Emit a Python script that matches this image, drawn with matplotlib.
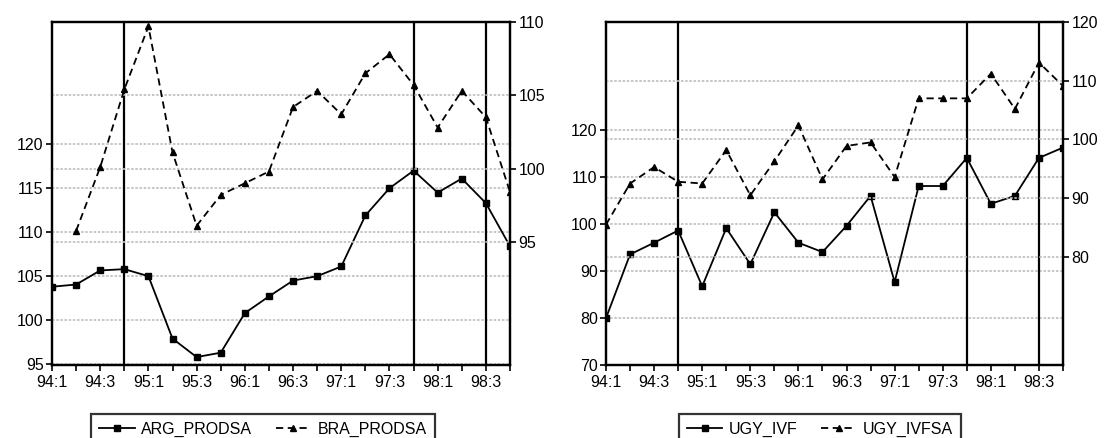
import matplotlib.pyplot as plt
import numpy as np

plt.rcParams['font.family'] = ['Liberation Sans', 'DejaVu Sans']

# quarters 94:1 .. 98:4
quarters = ['94:1', '94:2', '94:3', '94:4', '95:1', '95:2', '95:3', '95:4',
            '96:1', '96:2', '96:3', '96:4', '97:1', '97:2', '97:3', '97:4',
            '98:1', '98:2', '98:3', '98:4']

arg_prodsa = [103.8, 104.05, 105.65, 105.8, 105.0, 97.9, 95.8, 96.3,
              100.8, 102.7, 104.5, 105.0, 106.1, 111.9, 115.0, 117.0,
              114.5, 116.1, 113.3, 108.4]
bra_prodsa = [np.nan, 95.75, 100.1, 105.4, 109.7, 101.1, 96.1, 98.2,
              99.0, 99.8, 104.2, 105.3, 103.7, 106.5, 107.8, 105.7,
              102.8, 105.3, 103.5, 98.4]

ugy_ivf = [79.9, 93.5, 96.0, 98.6, 86.7, 99.1, 91.4, 102.5,
           96.0, 94.0, 99.6, 106.0, 87.6, 108.1, 108.1, 114.1,
           104.3, 106.0, 114.1, 116.3]
ugy_ivfsa = [85.5, 92.5, 95.3, 92.8, 92.5, 98.2, 90.5, 96.3,
             102.4, 93.2, 98.9, 99.5, 93.6, 107.0, 107.0, 107.0,
             111.2, 105.2, 113.1, 109.1]

# quarter positions of the vertical marker lines (94:4, 97:4, 98:3)
vlines_at = ['94:4', '97:4', '98:3']

left_ticks_l = [95, 100, 105, 110, 115, 120]
right_ticks_l = [95, 100, 105, 110]
left_ticks_r = [70, 80, 90, 100, 110, 120]
right_ticks_r = [80, 90, 100, 110, 120]

x = np.arange(len(quarters))
fs = 11.5
grid_kw = dict(color='#bdbdbd', linestyle=(0, (1.5, 1)), linewidth=1.2)


def panel(rect, s1, s2, name1, name2, lim1, lim2, t1, t2, leg_x):
    ax = fig.add_axes(rect)
    ax2 = ax.twinx()
    for t in t1:
        if lim1[0] < t < lim1[1]:
            ax.axhline(t, zorder=0, **grid_kw)
    for t in t2:
        if lim2[0] < t < lim2[1]:
            ax2.axhline(t, zorder=0, **grid_kw)
    for q in vlines_at:
        ax.axvline(quarters.index(q), color='black', lw=1.6, zorder=1)
    l1, = ax.plot(x, s1, color='black', lw=1.3, marker='s', ms=3.8,
                  zorder=3, label=name1)
    l2, = ax2.plot(x, s2, color='black', lw=1.3, ls=(0, (4, 2.5)),
                   marker='^', ms=4.2, zorder=3, label=name2)
    ax.set_xlim(0, len(quarters) - 1)
    ax.set_ylim(*lim1)
    ax2.set_ylim(*lim2)
    ax.set_yticks(t1)
    ax2.set_yticks(t2)
    ax.set_xticks(x)
    ax.set_xticklabels([q if i % 2 == 0 else '' for i, q in enumerate(quarters)])
    for a in (ax, ax2):
        for sp in a.spines.values():
            sp.set_linewidth(1.6)
        a.tick_params(labelsize=fs, width=1.2, length=4, pad=2)
    ax.tick_params(axis='x', length=4, pad=3)
    leg = fig.legend(handles=[l1, l2], loc='upper center',
                     bbox_to_anchor=(leg_x, 1 - 414 / 438), ncol=2,
                     fontsize=11.5, frameon=True, fancybox=False,
                     edgecolor='black', handlelength=2.2, columnspacing=1.5,
                     borderpad=0.5, handletextpad=0.4, borderaxespad=0)
    leg.get_frame().set_linewidth(1.6)
    return ax, ax2


fig = plt.figure(figsize=(11.04, 4.38), dpi=100)
top = 1 - 22 / 438
bot = 1 - 365 / 438
panel([52 / 1104, bot, (510 - 52) / 1104, top - bot], arg_prodsa, bra_prodsa,
      'ARG_PRODSA', 'BRA_PRODSA', (94.9, 133.9), (86.6, 110.0),
      left_ticks_l, right_ticks_l, 263 / 1104)
panel([606 / 1104, bot, (1063 - 606) / 1104, top - bot], ugy_ivf, ugy_ivfsa,
      'UGY_IVF', 'UGY_IVFSA', (69.9, 143.1), (61.6, 120.0),
      left_ticks_r, right_ticks_r, 820 / 1104)

fig.savefig('out.png', dpi=100)
